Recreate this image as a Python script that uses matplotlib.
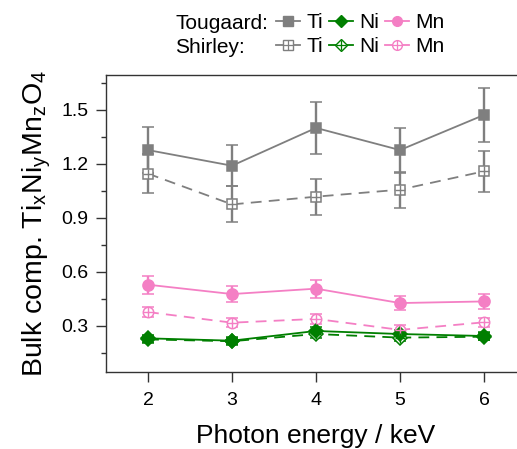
import matplotlib
matplotlib.use("Agg")
import matplotlib.pyplot as plt
from matplotlib.lines import Line2D
from matplotlib.ticker import MultipleLocator
from matplotlib.legend_handler import HandlerTuple

plt.rcParams['font.family'] = ['Liberation Sans', 'DejaVu Sans']
plt.rcParams['mathtext.default'] = 'regular'

energy = [2, 3, 4, 5, 6]

ti_toug = [1.277, 1.19, 1.40, 1.277, 1.472]
ti_toug_err = [0.13, 0.115, 0.145, 0.125, 0.15]
ti_shir = [1.146, 0.975, 1.018, 1.057, 1.159]
ti_shir_err = [0.11, 0.10, 0.10, 0.10, 0.115]

ni_toug = [0.231, 0.218, 0.272, 0.255, 0.244]
ni_toug_err = [0.02, 0.02, 0.02, 0.02, 0.02]
ni_shir = [0.225, 0.215, 0.255, 0.235, 0.240]
ni_shir_err = [0.02, 0.02, 0.02, 0.02, 0.02]

mn_toug = [0.529, 0.477, 0.507, 0.427, 0.436]
mn_toug_err = [0.05, 0.045, 0.05, 0.04, 0.04]
mn_shir = [0.377, 0.318, 0.339, 0.278, 0.320]
mn_shir_err = [0.03, 0.025, 0.03, 0.025, 0.025]

legend_labels = ['Ti', 'Ni', 'Mn']
methods = ['Tougaard:', 'Shirley:']

c_ti = '#7f7f7f'
c_ni = '#007f00'
c_mn = '#f47fc4'

W, H = 517, 449
fig = plt.figure(figsize=(W/100, H/100), dpi=100)
ax = fig.add_axes([106/W, 1-372/H, 420/W, (372-75)/H])

def plot_series(y, err, color, marker, ms, shirley):
    ls = (0, (6, 4)) if shirley else '-'
    mfc = 'white' if shirley else color
    ax.errorbar(energy, y, yerr=err, color=color, ecolor=color, elinewidth=1.7,
                capsize=4.5, capthick=1.7, lw=1.3, ls=ls, marker=marker, ms=ms,
                mfc=mfc, mec=color, mew=1.1, zorder=3)
    if shirley:
        ax.plot(energy, y, ls='none', marker='+', ms=ms, color=color, mew=1.0, zorder=4)

plot_series(ti_shir, ti_shir_err, c_ti, 's', 7, True)
plot_series(ti_toug, ti_toug_err, c_ti, 's', 7, False)
plot_series(mn_shir, mn_shir_err, c_mn, 'o', 7.5, True)
plot_series(mn_toug, mn_toug_err, c_mn, 'o', 8, False)
plot_series(ni_shir, ni_shir_err, c_ni, 'D', 7, True)
plot_series(ni_toug, ni_toug_err, c_ni, 'D', 7.5, False)

ax.set_xlim(1.5, 6.5)
ax.set_ylim(0.044, 1.694)
ax.set_xticks(energy)
ax.yaxis.set_major_locator(MultipleLocator(0.3))
ax.yaxis.set_minor_locator(MultipleLocator(0.15))
ax.set_yticks([0.3, 0.6, 0.9, 1.2, 1.5])
ax.set_yticklabels(['0.3', '0.6', '0.9', '1.2', '1.5'])
ax.tick_params(axis='x', direction='out', length=7.5, width=1, colors='#333333',
               labelcolor='black', labelsize=14, pad=7)
ax.tick_params(axis='y', which='major', direction='out', length=7, width=1,
               colors='#333333', labelcolor='black', labelsize=14, pad=5.5)
ax.tick_params(axis='y', which='minor', direction='out', length=3.5, width=1, colors='#333333')
for s in ['left', 'bottom', 'top']:
    ax.spines[s].set_color('#333333')
    ax.spines[s].set_linewidth(1.0)
ax.spines['right'].set_visible(False)

ax.set_xlabel('Photon energy / keV', fontsize=19, labelpad=11)
ax.set_ylabel('Bulk comp. Ti$_x$Ni$_y$Mn$_z$O$_4$', fontsize=20.5, labelpad=6)

def handles(shirley):
    hs = []
    for color, marker, ms in [(c_ti, 's', 6.5), (c_ni, 'D', 6.5), (c_mn, 'o', 7)]:
        mfc = 'white' if shirley else color
        base = Line2D([], [], color=color, ls='-', lw=1.3, marker=marker, ms=ms,
                      mfc=mfc, mec=color, mew=1.0)
        if shirley:
            plus = Line2D([], [], color=color, ls='none', marker='+', ms=ms, mew=0.9)
            hs.append((base, plus))
        else:
            hs.append(base)
    return hs

for name, shir, base_y in [(methods[0], False, 29), (methods[1], True, 53)]:
    fig.text(175/W, 1-base_y/H, name, fontsize=15, va='baseline', ha='left')
    fig.legend(handles(shir), legend_labels, ncol=3, loc='center left',
               bbox_to_anchor=(276/W, 1-(base_y-6)/H), frameon=False, fontsize=15,
               handlelength=1.15, handletextpad=0.3, columnspacing=0.3,
               borderpad=0, borderaxespad=0,
               handler_map={tuple: HandlerTuple(ndivide=1)})

fig.savefig('out.png', dpi=100)
